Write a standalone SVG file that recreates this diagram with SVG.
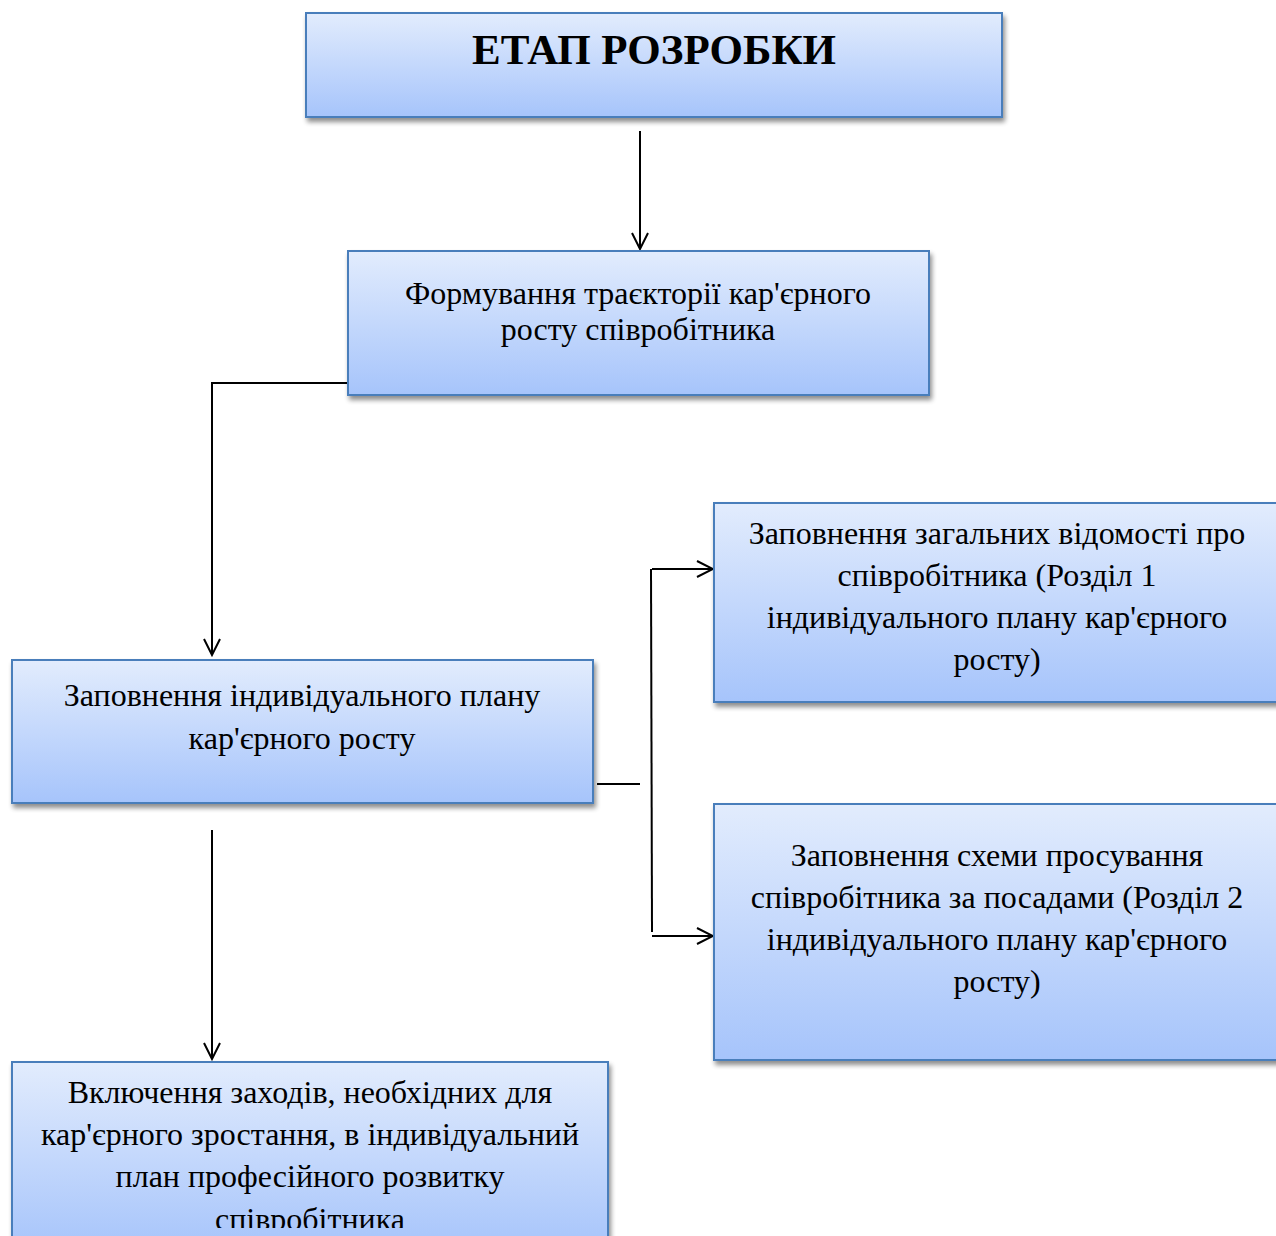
<svg xmlns="http://www.w3.org/2000/svg" width="1276" height="1236" viewBox="0 0 1276 1236">
  <defs>
    <linearGradient id="boxFill" x1="0" y1="0" x2="0" y2="1">
      <stop offset="0" stop-color="#e2ecfd"/>
      <stop offset="1" stop-color="#a6c4fb"/>
    </linearGradient>
    <filter id="shadow" x="-5%" y="-5%" width="110%" height="120%">
      <feGaussianBlur in="SourceAlpha" stdDeviation="2.5"/>
      <feOffset dx="2" dy="4" result="b"/>
      <feComponentTransfer><feFuncA type="linear" slope="0.45"/></feComponentTransfer>
      <feMerge><feMergeNode/><feMergeNode in="SourceGraphic"/></feMerge>
    </filter>
    <marker id="arrow" viewBox="0 0 20 20" refX="18" refY="10" markerWidth="20" markerHeight="20" markerUnits="userSpaceOnUse" orient="auto">
      <path d="M2,2 L18,10 L2,18" fill="none" stroke="#000" stroke-width="2"/>
    </marker>
    <clipPath id="clipBottom">
      <rect x="12" y="1062" width="596" height="166"/>
    </clipPath>
  </defs>
  <style>
    .box { fill: url(#boxFill); stroke: #4a7ebb; stroke-width: 2; filter: url(#shadow); }
    .txt { font-family: "Liberation Serif", "Times New Roman", serif; font-size: 32px; fill: #000; text-anchor: middle; }
    .title { font-family: "Liberation Serif", "Times New Roman", serif; font-size: 43px; font-weight: bold; fill: #000; text-anchor: middle; }
    .conn { fill: none; stroke: #000; stroke-width: 2; }
  </style>

  <rect width="1276" height="1236" fill="#fff"/>

  <g id="connectors">
    <line class="conn" x1="640" y1="131" x2="640" y2="249" marker-end="url(#arrow)"/>
    <polyline class="conn" points="348,383 212,383 212,655" marker-end="url(#arrow)"/>
    <line class="conn" x1="597" y1="784" x2="640" y2="784"/>
    <line class="conn" x1="651" y1="569" x2="652" y2="932"/>
    <line class="conn" x1="652" y1="569" x2="713" y2="569" marker-end="url(#arrow)"/>
    <line class="conn" x1="652" y1="936" x2="713" y2="936" marker-end="url(#arrow)"/>
    <line class="conn" x1="212" y1="830" x2="212" y2="1059" marker-end="url(#arrow)"/>
  </g>

  <g id="stage">
    <rect class="box" x="306" y="13" width="696" height="104"/>
    <text class="title" x="654" y="64">ЕТАП РОЗРОБКИ</text>
  </g>

  <g id="trajectory">
    <rect class="box" x="348" y="251" width="581" height="144"/>
    <text class="txt" x="638" y="304">Формування траєкторії кар'єрного</text>
    <text class="txt" x="638" y="340">росту співробітника</text>
  </g>

  <g id="plan">
    <rect class="box" x="12" y="660" width="581" height="143"/>
    <text class="txt" x="302" y="706">Заповнення індивідуального плану</text>
    <text class="txt" x="302" y="749">кар'єрного росту</text>
  </g>

  <g id="section1">
    <rect class="box" x="714" y="503" width="570" height="199"/>
    <text class="txt" x="997" y="544">Заповнення загальних відомості про</text>
    <text class="txt" x="997" y="586">співробітника (Розділ 1</text>
    <text class="txt" x="997" y="628">індивідуального плану кар'єрного</text>
    <text class="txt" x="997" y="670">росту)</text>
  </g>

  <g id="section2">
    <rect class="box" x="714" y="804" width="570" height="256"/>
    <text class="txt" x="997" y="866">Заповнення схеми просування</text>
    <text class="txt" x="997" y="908">співробітника за посадами (Розділ 2</text>
    <text class="txt" x="997" y="950">індивідуального плану кар'єрного</text>
    <text class="txt" x="997" y="992">росту)</text>
  </g>

  <g id="development">
    <rect class="box" x="12" y="1062" width="596" height="190"/>
    <g clip-path="url(#clipBottom)">
      <text class="txt" x="310" y="1103">Включення заходів, необхідних для</text>
      <text class="txt" x="310" y="1145">кар'єрного зростання, в індивідуальний</text>
      <text class="txt" x="310" y="1187">план професійного розвитку</text>
      <text class="txt" x="310" y="1230">співробітника</text>
    </g>
  </g>
</svg>
